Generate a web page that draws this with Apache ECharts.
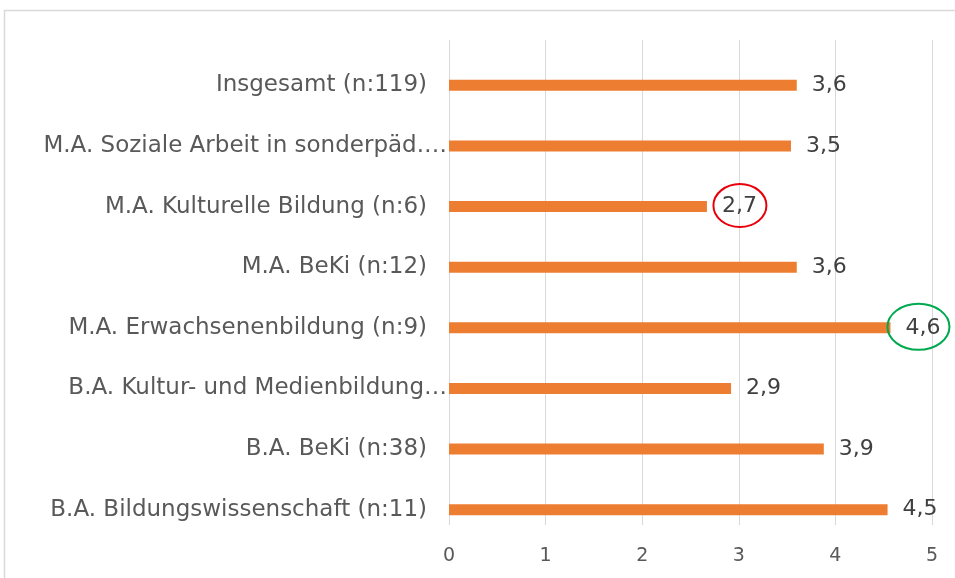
<!DOCTYPE html>
<html>
<head>
<meta charset="utf-8">
<script src="https://cdn.jsdelivr.net/npm/echarts@6/dist/echarts.min.js"></script>
<style>
  html, body { margin: 0; padding: 0; background: #fff; }
  #main { width: 955px; height: 578px; }
</style>
</head>
<body>
<div id="main"></div>
<script>
// data (bar lengths; labels show one decimal)
const categories = [
  "Insgesamt (n:119)",
  "M.A. Soziale Arbeit in sonderpäd.…",
  "M.A. Kulturelle Bildung (n:6)",
  "M.A. BeKi (n:12)",
  "M.A. Erwachsenenbildung (n:9)",
  "B.A. Kultur- und Medienbildung…",
  "B.A. BeKi (n:38)",
  "B.A. Bildungswissenschaft (n:11)",
];
const values = [3.6, 3.54, 2.67, 3.6, 4.57, 2.92, 3.88, 4.54];
const xTicks = [0, 1, 2, 3, 4, 5];
// marked values: red = lowest, green = highest
const lowIndex = 2;
const highIndex = 4;

const font = "'DejaVu Sans', sans-serif";
const fmt = (v) => v.toFixed(1).replace(".", ",");

const myChart = echarts.init(document.getElementById("main"));

const option = {
  animation: false,
  backgroundColor: "#fff",
  grid: [
    { left: 449, width: 483, top: 55, height: 485 },
    { left: 449, width: 483, top: 40, height: 485 },
  ],
  xAxis: [
    { gridIndex: 0, type: "value", min: 0, max: 5, show: false },
    {
      gridIndex: 1,
      type: "value",
      min: 0,
      max: 5,
      interval: 1,
      axisLine: { show: false },
      axisTick: { show: false },
      splitLine: { lineStyle: { color: "#D9D9D9", width: 1 } },
      axisLabel: {
        margin: 22,
        fontFamily: font,
        fontSize: 19,
        color: "#595959",
        formatter: (v) => (xTicks.includes(v) ? String(v) : ""),
      },
    },
  ],
  yAxis: [
    {
      gridIndex: 0,
      type: "category",
      data: categories,
      inverse: true,
      axisLine: { show: false },
      axisTick: { show: false },
      splitLine: { show: false },
      axisLabel: {
        margin: 2,
        fontFamily: font,
        fontSize: 23,
        color: "#595959",
        formatter: (v) => (v.endsWith("…") ? "{t|" + v + "}" : "{n|" + v + "}"),
        rich: {
          t: { fontFamily: font, fontSize: 23, color: "#595959" },
          n: { fontFamily: font, fontSize: 23, color: "#595959", padding: [0, 20, 0, 0] },
        },
      },
    },
    { gridIndex: 1, type: "value", show: false },
  ],
  series: [
    {
      type: "bar",
      xAxisIndex: 0,
      yAxisIndex: 0,
      data: values,
      barWidth: 11,
      itemStyle: { color: "#ED7D31" },
      label: {
        show: true,
        position: "right",
        distance: 15,
        fontFamily: font,
        fontSize: 22,
        color: "#404040",
        formatter: (p) => fmt(p.value),
      },
    },
  ],
};

option && myChart.setOption(option);

// outer border and the two highlight ellipses, placed from the data
const lowPt = myChart.convertToPixel({ gridIndex: 0 }, [values[lowIndex], lowIndex]);
const highPt = myChart.convertToPixel({ gridIndex: 0 }, [values[highIndex], highIndex]);
myChart.setOption({
  graphic: [
    {
      type: "rect",
      shape: { x: 4.5, y: 10.5, width: 1000, height: 1000 },
      style: { fill: "none", stroke: "#D9D9D9", lineWidth: 1.5 },
      silent: true,
    },
    {
      type: "ellipse",
      shape: { cx: lowPt[0] + 33, cy: lowPt[1] - 1, rx: 26.5, ry: 21.5 },
      style: { fill: "none", stroke: "#E8000B", lineWidth: 2 },
      z: 10,
    },
    {
      type: "ellipse",
      shape: { cx: highPt[0] + 28, cy: highPt[1] - 1, rx: 31, ry: 23 },
      style: { fill: "none", stroke: "#00A94F", lineWidth: 2 },
      z: 10,
    },
  ],
});
</script>
</body>
</html>
